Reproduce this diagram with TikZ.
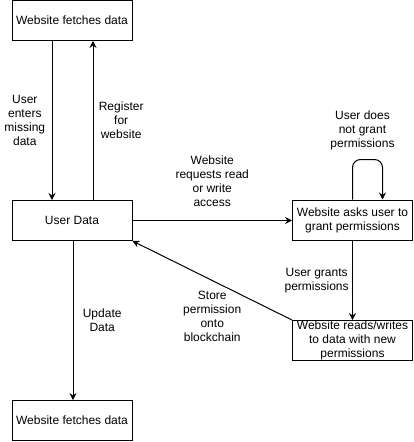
\documentclass[tikz,border=0pt]{standalone}
\usepackage{fontspec}
\setmainfont{Liberation Sans}
\usetikzlibrary{arrows.meta, positioning}

\begin{document}
\begin{tikzpicture}[x=1pt, y=-1pt, line width=1pt,
		every node/.style={font=\fontsize{12}{14}\selectfont, align=center},
		box/.style={draw, minimum width=120pt, minimum height=40pt, inner sep=0pt},
		flow/.style={-{Stealth[length=7pt,width=7pt,inset=2.5pt]}}]
		\useasboundingbox (0,0) rectangle (414,442);
		% boxes
		\node[box] (fetch) at (72,20.5) {Website fetches data};
		\node[box] (user) at (72,220.5) {User Data};
		\node[box] (fetchB) at (72,420.5) {Website fetches data};
		\node[box] (asks) at (352.5,220) {Website asks user to\\grant permissions};
		\node[box] (reads) at (352.5,340.5) {Website reads/writes\\to data with new\\permissions};
		% connectors
		\draw[flow] ([xshift=-20pt]fetch.south) -- node[left=3pt] {User\\enters\\missing\\data} ([xshift=-20pt]user.north);
		\draw[flow] ([xshift=21pt]user.north) -- node[right=2pt] {Register\\for\\website} ([xshift=21pt]fetch.south);
		\draw[flow] (user.east) -- node[midway, above=10pt] {Website\\requests read\\or write\\access} (user.east -| asks.west);
		\draw[flow, rounded corners=8pt] (asks.north) -- ++(0,-40) -| node[pos=0.25, above=6pt, xshift=-5pt] {User does\\not grant\\permissions} ([xshift=30pt]asks.north);
		\draw[flow] (asks) -- node[left] {User grants\\permissions} (reads);
		\draw[flow] (reads.north west) -- node[midway, below=7pt] {Store\\permission\\onto\\blockchain} (user.south east);
		\draw[flow] ([xshift=1pt]user.south) -- node[right=6pt] {Update\\Data} ([xshift=1pt]fetchB.north);
	\end{tikzpicture}
\end{document}
